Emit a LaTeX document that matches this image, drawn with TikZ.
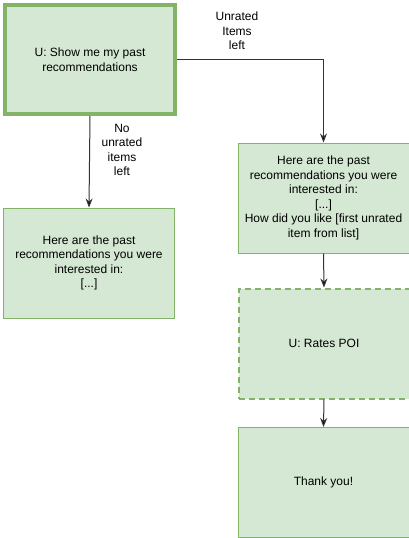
\documentclass[tikz,border=0pt]{standalone}
\usepackage{fontspec}
\setmainfont{Liberation Sans}
\usetikzlibrary{arrows.meta}
\definecolor{gfill}{HTML}{D5E8D4}
\definecolor{gline}{HTML}{82B366}
\definecolor{edgec}{HTML}{333333}
\begin{document}
\begin{tikzpicture}[x=1pt,y=-1pt,
  box/.style={draw=gline,fill=gfill,line width=1pt,minimum width=171pt,minimum height=110pt,
    align=center,inner sep=0pt,font=\fontsize{12}{14.5}\selectfont,anchor=north west},
  thickbox/.style={box,line width=4pt,minimum width=170pt,minimum height=109pt},
  dashbox/.style={box,line width=2pt,dash pattern=on 6pt off 4pt},
  arr/.style={draw=edgec,line width=1pt,-{Stealth[length=9pt,width=7pt,fill=black]}},
  lbl/.style={align=center,font=\fontsize{12}{14.5}\selectfont,inner sep=0pt}]
\useasboundingbox (0,0) rectangle (409,538);
\node[thickbox] (a) at (3,3) {U: Show me my past\\recommendations};
\node[box] (b) at (3,207.5) {Here are the past\\recommendations you were\\interested in:\\{[}...{]}};
\node[box] (c) at (237.5,142.5) {Here are the past\\recommendations you were\\interested in:\\{[}...{]}\\How did you like [first unrated\\item from list]};
\node[dashbox] (d) at (237.5,287.5) {U: Rates POI};
\node[box] (e) at (237.5,427) {Thank you!};
\draw[arr] (a.south) -- (b.north);
\draw[arr] (a.east) -| (c.north);
\draw[arr] (c.south) -- (d.north);
\draw[arr] (d.south) -- (e.north);
\node[lbl] (l1) at (122,150) {No\\unrated\\items\\left};
\node[lbl] (l2) at (237,31) {Unrated\\Items\\left};
\end{tikzpicture}
\end{document}
